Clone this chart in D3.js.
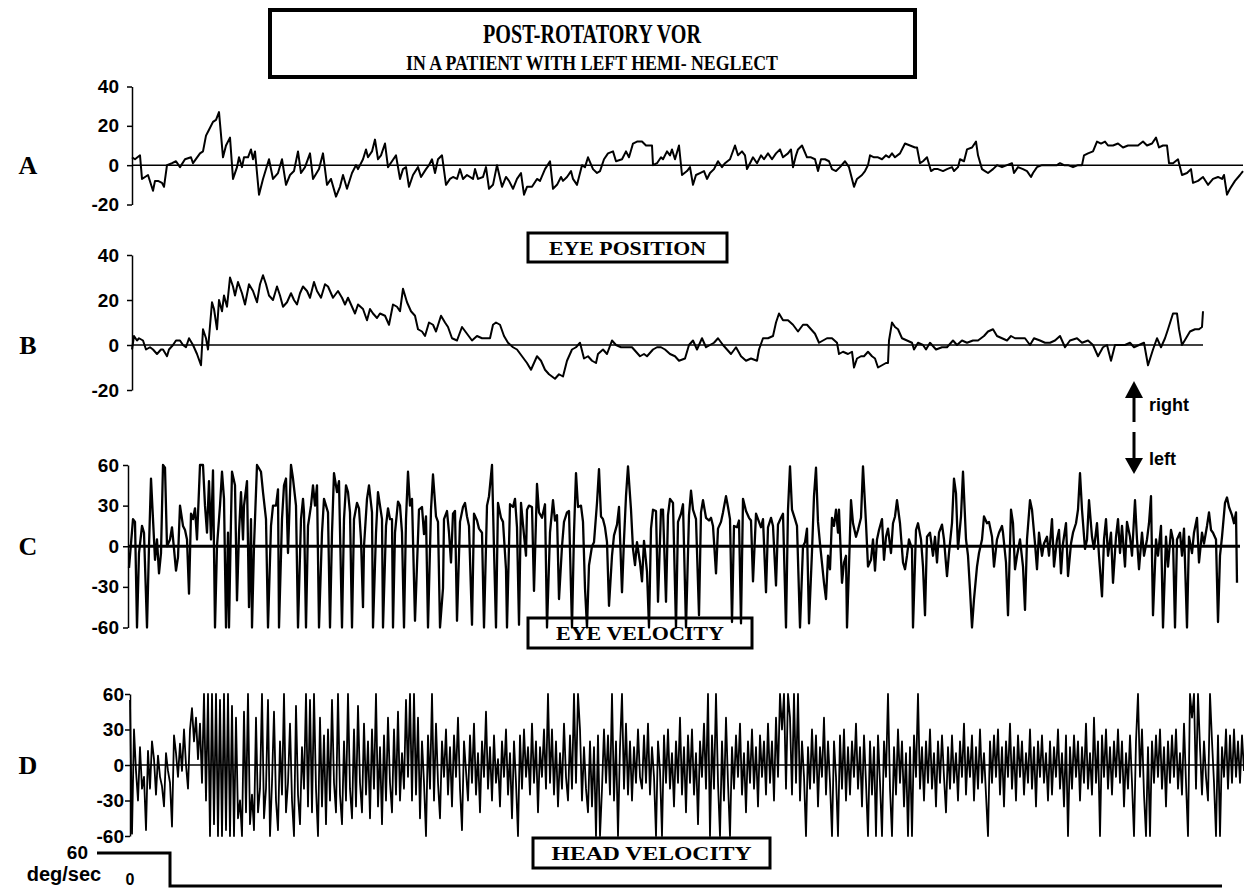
<!DOCTYPE html>
<html>
<head>
<meta charset="utf-8">
<script src="https://cdn.jsdelivr.net/npm/d3@7"></script>
<style>
  html, body { margin: 0; padding: 0; background: #fff; }
  svg { display: block; }
</style>
</head>
<body>
<svg id="chart" width="1244" height="891"></svg>
<script>
// sample index along the record, value in degrees (A, B) or deg/sec (C)
const posA = [[0,4],[3,3],[8,5],[10,-7],[13,-6],[16,-5],[21,-13],[23,-8],[26,-8],[30,-9],[32,-11],[35,0],[40,1],[44,2],[48,-1],[53,3],[59,4],[61,1],[68,6],[71,7],[74,15],[76,17],[81,22],[84,23],[87,27],[91,4],[94,10],[98,14],[101,-7],[105,-1],[107,4],[110,-1],[112,4],[116,4],[119,8],[121,3],[123,7],[127,-15],[131,-7],[137,3],[141,-7],[146,-4],[150,3],[154,-10],[158,-5],[162,-3],[166,7],[169,-4],[173,-1],[178,6],[181,-7],[187,-2],[191,6],[195,-10],[199,-7],[204,-16],[208,-11],[211,-5],[215,-12],[220,-4],[224,0],[226,-2],[231,3],[234,8],[236,4],[240,7],[243,13],[246,3],[249,5],[253,11],[256,-1],[260,2],[264,5],[268,-7],[271,-2],[274,-1],[277,-11],[281,-5],[286,-1],[289,-6],[294,-2],[297,0],[300,3],[303,-4],[306,3],[310,5],[314,-10],[318,-7],[321,-6],[325,-7],[328,-2],[331,-7],[335,-5],[341,-7],[343,-2],[346,-7],[351,-6],[354,-1],[357,-12],[361,-10],[365,0],[370,-11],[374,-6],[377,-8],[381,-12],[385,-7],[389,-4],[392,-15],[395,-11],[400,-11],[405,-7],[408,-8],[413,-2],[418,2],[421,-12],[425,-10],[429,-6],[431,-8],[435,-6],[439,-3],[441,-7],[445,-10],[450,0],[453,-1],[456,4],[461,-2],[465,-4],[468,-3],[472,3],[476,6],[481,7],[484,2],[490,3],[494,7],[497,4],[501,11],[505,12],[510,12],[514,10],[518,10],[520,10],[521,0],[525,1],[529,4],[531,3],[535,7],[538,5],[540,8],[543,3],[547,10],[550,-5],[555,-3],[558,-1],[561,-10],[564,-5],[568,-4],[572,-3],[575,-7],[578,-4],[582,-2],[586,2],[590,-1],[593,1],[598,3],[603,10],[606,5],[610,7],[613,5],[615,-2],[618,1],[621,4],[625,1],[629,5],[632,3],[636,6],[640,3],[644,6],[648,8],[651,4],[656,6],[659,8],[661,-1],[664,5],[666,8],[670,10],[675,4],[679,4],[683,3],[686,-3],[689,3],[693,3],[697,2],[700,-2],[704,-3],[708,-1],[713,2],[717,-1],[722,-11],[725,-7],[730,-5],[733,-3],[736,0],[738,5],[742,4],[746,4],[750,3],[754,5],[757,4],[760,6],[763,4],[768,6],[773,11],[778,10],[783,9],[785,9],[788,1],[791,2],[795,4],[799,-3],[802,-2],[806,-2],[811,-3],[815,-2],[820,-1],[822,-3],[826,-1],[828,3],[832,2],[835,8],[840,9],[844,12],[846,5],[850,-2],[853,-3],[856,-4],[861,-2],[865,0],[870,-1],[875,0],[880,1],[882,-4],[886,-1],[891,-2],[895,-3],[899,-6],[901,-4],[905,-1],[910,0],[915,0],[920,0],[925,0],[928,1],[932,0],[936,0],[941,-1],[946,0],[950,0],[952,5],[956,6],[961,7],[965,12],[969,11],[973,12],[976,10],[981,10],[986,11],[991,9],[996,10],[1001,10],[1006,10],[1011,12],[1015,10],[1020,11],[1024,14],[1027,9],[1031,10],[1035,10],[1037,1],[1041,1],[1046,3],[1050,-5],[1055,-4],[1059,-2],[1061,-9],[1066,-8],[1071,-6],[1076,-10],[1081,-7],[1086,-6],[1090,-7],[1092,-5],[1095,-15],[1098,-12],[1103,-8],[1108,-5],[1111,-3]];

const posB = [[0,-2],[2,4],[5,2],[7,3],[11,2],[14,-2],[18,-1],[21,-2],[25,-4],[29,-2],[31,-2],[35,-5],[37,-2],[41,0],[44,2],[48,2],[51,0],[54,-1],[57,3],[61,0],[65,-4],[69,-9],[71,7],[74,3],[76,-2],[80,19],[82,16],[85,7],[87,20],[90,15],[92,22],[95,17],[98,30],[101,26],[103,22],[106,28],[110,23],[113,18],[117,27],[121,24],[125,19],[128,27],[131,31],[134,27],[137,22],[141,20],[145,26],[148,22],[151,17],[155,19],[159,23],[162,20],[165,18],[168,23],[171,26],[175,24],[178,21],[182,28],[185,24],[189,21],[193,27],[196,26],[199,23],[201,21],[206,24],[210,21],[213,18],[216,21],[221,16],[223,14],[226,18],[231,16],[235,11],[238,16],[241,14],[245,12],[248,14],[253,13],[257,9],[261,18],[265,17],[268,15],[271,25],[275,19],[279,15],[283,13],[286,7],[290,6],[293,4],[297,10],[301,9],[304,6],[309,13],[313,10],[316,8],[320,3],[325,2],[330,8],[335,5],[340,2],[345,4],[350,3],[354,3],[358,3],[361,9],[364,10],[368,9],[372,4],[376,1],[381,-1],[385,-2],[390,-5],[395,-8],[399,-11],[405,-5],[409,-7],[413,-11],[417,-13],[423,-15],[427,-13],[431,-14],[435,-7],[440,-2],[444,-1],[448,1],[452,-6],[456,-5],[460,-7],[464,-8],[466,-4],[471,-2],[475,-4],[480,2],[484,0],[489,-1],[495,-1],[500,-1],[504,-3],[508,-5],[512,-4],[515,-5],[521,-2],[525,-1],[529,-1],[533,-2],[538,-4],[543,-5],[547,-7],[553,-6],[557,0],[561,2],[565,-2],[570,3],[574,-1],[578,0],[582,1],[586,3],[591,0],[595,-2],[599,-4],[604,-1],[609,-5],[614,-7],[619,-6],[625,-7],[627,-2],[631,3],[636,3],[641,4],[644,10],[647,14],[651,11],[656,11],[661,9],[666,6],[671,9],[675,9],[679,7],[683,5],[687,1],[691,2],[695,3],[700,3],[705,1],[707,-4],[711,-3],[716,-4],[720,-3],[722,-10],[725,-6],[729,-5],[732,-5],[736,-3],[740,-5],[743,-6],[746,-10],[750,-9],[754,-8],[756,-8],[757,2],[760,10],[763,8],[766,7],[770,3],[775,2],[780,1],[782,-2],[786,1],[791,0],[794,-2],[798,1],[804,-2],[810,-1],[815,-1],[821,2],[825,0],[830,2],[835,1],[841,2],[846,2],[852,4],[856,6],[861,7],[865,4],[870,3],[875,2],[879,4],[883,3],[888,3],[893,3],[898,0],[902,3],[908,2],[913,1],[918,1],[923,2],[928,4],[933,-1],[938,2],[945,3],[950,1],[956,2],[961,0],[966,-5],[971,-1],[975,0],[979,-7],[983,0],[988,0],[993,0],[998,1],[1002,-1],[1007,0],[1012,1],[1016,-9],[1021,-2],[1025,3],[1029,-1],[1033,3],[1036,7],[1041,14],[1045,14],[1047,7],[1050,0],[1054,3],[1058,6],[1063,7],[1067,7],[1070,8],[1071,15]];

const velC = [[1,-16],[5,20],[7,18],[9,-60],[11,-5],[14,15],[16,10],[19,-60],[21,0],[23,50],[25,20],[27,-10],[29,5],[31,-20],[33,-5],[35,60],[37,58],[39,0],[42,5],[44,14],[46,-2],[48,-18],[50,-8],[52,30],[55,15],[57,12],[59,5],[61,-35],[63,24],[65,20],[67,28],[69,5],[72,60],[75,60],[77,30],[79,10],[81,48],[83,5],[85,56],[87,-60],[89,0],[92,30],[94,55],[96,35],[98,-60],[100,10],[101,-60],[103,20],[104,55],[107,45],[109,-40],[111,10],[113,40],[115,5],[116,30],[119,48],[121,-45],[123,20],[124,-60],[126,0],[129,60],[133,55],[135,40],[138,20],[140,-60],[143,15],[145,30],[148,30],[150,42],[151,-60],[154,20],[156,45],[158,50],[160,-5],[163,60],[165,50],[168,30],[170,-60],[173,20],[175,35],[176,25],[178,-60],[180,15],[183,30],[185,45],[187,30],[189,45],[191,-60],[194,10],[196,35],[198,30],[200,25],[202,-60],[204,10],[206,54],[209,40],[211,48],[214,-60],[216,20],[218,45],[220,40],[222,25],[224,-60],[226,20],[229,32],[231,28],[233,5],[235,-45],[236,0],[239,35],[241,45],[244,25],[245,-60],[248,10],[250,40],[252,30],[254,20],[255,-60],[258,15],[260,28],[262,20],[264,20],[265,-60],[267,10],[270,33],[272,30],[274,10],[276,-60],[278,20],[280,55],[282,30],[284,35],[287,-55],[291,27],[294,29],[296,9],[298,22],[300,-60],[303,27],[305,53],[308,22],[310,18],[312,-60],[315,-31],[316,20],[319,26],[321,10],[323,-12],[325,24],[327,26],[329,-55],[332,18],[335,29],[337,32],[339,22],[341,15],[344,-58],[346,24],[349,19],[351,13],[354,10],[356,-60],[359,30],[361,37],[364,60],[366,-2],[368,-60],[370,32],[373,21],[375,18],[378,-17],[379,-60],[382,31],[385,29],[387,35],[389,14],[391,-58],[393,32],[395,16],[398,-7],[399,27],[401,30],[404,29],[406,-33],[409,46],[411,25],[414,21],[417,31],[419,-60],[422,10],[425,34],[427,19],[429,23],[431,-39],[434,0],[436,18],[439,25],[441,26],[444,-60],[446,10],[448,54],[450,29],[453,30],[455,18],[457,-31],[459,-60],[461,-14],[464,0],[466,3],[469,32],[471,57],[473,22],[475,20],[477,14],[479,3],[481,-44],[484,-7],[486,8],[489,16],[491,29],[494,-34],[496,5],[498,37],[500,59],[503,27],[505,-2],[507,-14],[509,3],[512,-12],[514,-26],[516,4],[519,-19],[521,-60],[523,13],[525,27],[528,26],[530,-41],[533,27],[535,27],[538,-41],[540,23],[542,35],[545,32],[548,-60],[550,18],[553,24],[555,31],[558,-60],[561,23],[563,41],[565,27],[568,20],[571,-51],[573,25],[575,34],[578,21],[581,19],[583,21],[585,15],[588,-20],[590,13],[593,18],[595,25],[598,37],[600,29],[602,20],[604,-56],[606,15],[609,14],[611,19],[613,-57],[615,35],[618,26],[621,21],[623,19],[625,-26],[628,24],[630,20],[633,14],[635,20],[638,-34],[640,14],[643,21],[645,15],[648,-29],[650,16],[653,21],[655,24],[658,-60],[660,27],[662,59],[664,27],[667,20],[669,15],[672,-60],[675,0],[677,3],[679,13],[681,-57],[684,-4],[686,37],[688,58],[690,18],[692,2],[696,-27],[698,-39],[700,-7],[702,-17],[704,21],[706,15],[708,27],[710,10],[711,27],[714,-27],[716,-12],[718,-7],[719,-60],[721,-15],[723,34],[725,17],[728,7],[730,12],[733,21],[735,59],[738,17],[740,-15],[743,-10],[745,5],[747,-18],[749,5],[751,12],[754,20],[756,-10],[758,7],[760,13],[763,-5],[765,17],[767,22],[769,34],[772,17],[775,-12],[777,-17],[779,-7],[781,5],[784,-2],[785,-60],[788,12],[790,17],[793,5],[795,-15],[797,-51],[799,7],[802,10],[805,-7],[807,7],[809,-12],[811,10],[814,16],[816,5],[819,-22],[821,-5],[824,17],[826,50],[828,39],[830,-2],[833,22],[835,55],[838,5],[840,-7],[842,-32],[844,-60],[846,-39],[849,-15],[851,-5],[854,5],[856,22],[859,17],[861,18],[864,7],[866,-15],[869,5],[871,10],[874,15],[875,10],[878,-12],[880,-51],[883,27],[885,17],[887,-17],[889,-7],[892,5],[895,-15],[897,-47],[899,5],[902,34],[904,27],[907,2],[909,-17],[911,10],[914,-7],[916,2],[919,7],[921,-7],[924,20],[926,-15],[929,5],[931,12],[933,-20],[935,2],[938,17],[940,-22],[943,2],[945,10],[948,17],[950,27],[952,54],[954,27],[957,-2],[959,5],[961,34],[964,7],[966,-2],[969,17],[971,-7],[974,-37],[976,5],[978,20],[980,-7],[983,10],[985,-27],[988,7],[990,20],[992,-5],[994,15],[997,-15],[999,18],[1002,7],[1004,-7],[1007,34],[1009,5],[1011,-17],[1014,10],[1016,-7],[1019,5],[1021,17],[1023,37],[1025,-51],[1028,5],[1030,-7],[1033,15],[1035,-60],[1038,7],[1040,-15],[1043,12],[1045,5],[1047,-60],[1049,5],[1052,10],[1054,-7],[1056,13],[1059,-60],[1061,7],[1064,-5],[1066,10],[1069,21],[1071,-12],[1074,10],[1076,2],[1079,15],[1081,25],[1083,12],[1085,10],[1088,5],[1090,-56],[1092,-7],[1094,7],[1097,32],[1099,36],[1101,29],[1104,23],[1106,17],[1108,25],[1109,-27]];

// head-velocity trace, read every 2 samples
const velD = [
  55,-58,30,-5,-30,15,-20,-10,-55,12,
  -20,20,5,-25,8,-10,-18,-35,10,-5,
  -15,-52,25,10,-10,18,-5,30,0,-20,
  30,48,20,40,5,35,-15,60,-30,60,
  -60,60,-50,60,-60,55,-60,60,-55,60,
  -60,50,-60,40,-45,-30,-60,45,-40,60,
  -50,-25,-55,40,-40,-20,60,-45,-20,55,
  -60,-15,45,-30,-55,20,-25,60,-40,-15,
  35,-30,-60,50,-25,-50,15,-20,60,-35,
  55,-40,60,-20,-60,40,-35,25,-50,30,
  -30,55,-15,-40,60,-25,-50,20,-30,60,
  -20,-45,30,-35,50,-15,-40,35,-25,20,
  -45,30,-20,60,-35,15,-50,25,-30,40,
  -15,-40,30,-25,45,-30,10,-20,55,-10,
  60,-30,60,-25,40,-45,20,-15,-60,25,
  -20,60,-30,35,-15,-45,20,-10,30,-25,
  15,-35,25,-10,40,-20,-55,20,-5,-30,
  25,-15,35,-25,10,-40,20,-10,45,-20,
  15,-30,25,-15,5,-35,20,-10,30,-25,
  10,-45,20,-15,-60,25,-20,30,-10,15,
  -25,35,-15,20,-40,15,-10,30,-20,60,
  -15,30,-25,20,-35,10,-20,35,-10,-30,
  25,-20,60,-15,60,30,-30,15,-20,-40,
  20,-35,15,-60,25,-60,-20,30,-15,25,
  -25,60,-30,20,-60,15,60,-20,35,-25,
  20,-30,15,-15,30,-10,-20,25,-15,35,
  -25,15,-10,-60,20,-5,-60,25,-15,30,
  -20,10,-35,20,-15,40,-25,15,-40,25,
  -15,30,-25,10,-50,20,-10,35,-20,60,
  -60,25,-20,60,-15,-60,20,-30,40,-15,
  -60,15,-20,25,-10,35,-25,10,-40,20,
  -15,30,-20,15,-35,25,-10,20,-25,35,
  -15,20,-30,40,-10,60,30,60,-20,60,
  40,-25,60,-15,60,-30,20,-10,-60,15,
  -20,30,-15,25,-35,15,-10,40,-25,20,
  -15,-60,20,-10,-60,25,-20,30,-30,15,
  -25,20,-10,35,-20,15,-35,25,-15,-60,
  20,-25,15,-60,25,-15,-60,20,-10,60,
  -20,-60,15,-25,30,-15,20,-35,10,-60,
  15,-60,25,-10,60,-20,15,-30,20,-15,
  30,-20,10,-35,20,-15,25,-10,-40,15,
  -20,25,-15,10,-30,20,-10,35,-25,15,
  -10,25,-30,15,-20,30,-15,10,-25,-60,
  20,-15,25,-10,30,-25,15,-35,20,-10,
  35,-20,15,-30,25,-10,20,-25,10,-15,
  30,-20,15,-35,20,-10,25,-15,10,-30,
  20,-25,15,-10,30,-20,10,-35,25,-60,
  15,-20,25,-10,20,-30,15,-15,35,-20,
  10,-25,40,-15,20,-60,25,-10,30,-20,
  15,-25,20,-10,30,-15,20,-35,10,-20,
  25,-15,-60,20,60,-10,30,-25,-60,15,
  -60,20,-15,25,-10,30,-20,15,-35,20,
  -15,25,-10,30,-20,10,-25,35,-15,-60,
  60,40,60,-20,60,15,-25,20,-10,-30,
  60,20,-15,-60,25,-60,15,-10,30,-20,
  25,-15,30,-10,20,-15,25,-5
];
const stepD = 2;

const headTime = [-33, 40, 40, 1092];
const headVel = [60, 60, 0, 0];

const ticksPos = [40, 20, 0, -20];
const ticksVel = [60, 30, 0, -30, -60];

const svg = d3.select('#chart');
const sans = "'Liberation Sans', Arial, sans-serif";
const serif = "'Liberation Serif', 'Times New Roman', serif";

const panels = [
  { letter: 'A', data: posA, domX: [0, 1111], rangeX: [132, 1243], domY: [-20, 40], rangeY: [204.5, 86.5], ticks: ticksPos, zeroEnd: 1243, zeroW: 1.5, labelX: 119, lw: 2 },
  { letter: 'B', data: posB, domX: [0, 1111], rangeX: [132, 1243], domY: [-20, 40], rangeY: [390, 255], ticks: ticksPos, zeroEnd: 1203, zeroW: 1.5, labelX: 119, lw: 2 },
  { letter: 'C', data: velC, domX: [0, 1110], rangeX: [128, 1238], domY: [-60, 60], rangeY: [627.5, 465], ticks: ticksVel, zeroEnd: 1240, zeroW: 3, labelX: 119, lw: 2.3 },
  { letter: 'D', data: velD.map((v, i) => [i * stepD, v]), domX: [0, 1114], rangeX: [130, 1244], domY: [-60, 60], rangeY: [836, 694], ticks: ticksVel, zeroEnd: 1244, zeroW: 1.5, labelX: 124, lw: 1.8 }
];

// labelled boxes go underneath the traces
function labelBox(x, y, w, h, text, len) {
  svg.append('rect').attr('x', x).attr('y', y).attr('width', w).attr('height', h)
    .attr('fill', '#fff').attr('stroke', '#000').attr('stroke-width', 3);
  svg.append('text').attr('x', x + w / 2).attr('y', y + h / 2 + 7)
    .attr('text-anchor', 'middle').attr('font-family', serif).attr('font-weight', 'bold')
    .attr('font-size', 19).attr('textLength', len).attr('lengthAdjust', 'spacingAndGlyphs')
    .text(text);
}
labelBox(528, 233, 199, 29, 'EYE POSITION', 157);
labelBox(528, 618, 224, 30, 'EYE VELOCITY', 168);
labelBox(533, 838, 237, 30, 'HEAD VELOCITY', 200);

panels.forEach(p => {
  const x = d3.scaleLinear().domain(p.domX).range(p.rangeX);
  const y = d3.scaleLinear().domain(p.domY).range(p.rangeY);
  const axisX = p.rangeX[0];

  const ax = svg.append('g')
    .attr('transform', 'translate(' + axisX + ',0)')
    .call(d3.axisLeft(y).tickValues(p.ticks).tickSize(5).tickSizeOuter(0)
      .tickPadding(axisX - p.labelX - 5).tickFormat(d => String(d)));
  ax.select('.domain').attr('stroke', '#000').attr('stroke-width', 1.5);
  ax.selectAll('.tick line').attr('stroke', '#000').attr('stroke-width', 1.5);
  ax.selectAll('.tick text')
    .attr('font-family', sans).attr('font-weight', 'bold').attr('font-size', 19).attr('fill', '#000');

  svg.append('line')
    .attr('x1', axisX).attr('x2', p.zeroEnd).attr('y1', y(0)).attr('y2', y(0))
    .attr('stroke', '#000').attr('stroke-width', p.zeroW);

  svg.append('path').datum(p.data)
    .attr('fill', 'none').attr('stroke', '#000').attr('stroke-width', p.lw)
    .attr('stroke-linejoin', 'round')
    .attr('d', d3.line().x(d => x(d[0])).y(d => y(d[1])));

  svg.append('text').attr('x', 28).attr('y', y(0) + 9)
    .attr('text-anchor', 'middle').attr('font-family', serif).attr('font-weight', 'bold')
    .attr('font-size', 26).text(p.letter);
});

// head velocity step
const xHead = d3.scaleLinear().domain([0, 1114]).range([130, 1244]);
const yHead = d3.scaleLinear().domain([0, 60]).range([886, 853]);
svg.append('path').datum(headTime.map((t, i) => [t, headVel[i]]))
  .attr('fill', 'none').attr('stroke', '#000').attr('stroke-width', 3)
  .attr('d', d3.line().x(d => xHead(d[0])).y(d => yHead(d[1])));
svg.append('text').attr('x', 88).attr('y', 859).attr('text-anchor', 'end')
  .attr('font-family', sans).attr('font-weight', 'bold').attr('font-size', 19).text('60');
svg.append('text').attr('x', 64).attr('y', 881).attr('text-anchor', 'middle')
  .attr('font-family', sans).attr('font-weight', 'bold').attr('font-size', 20).text('deg/sec');
svg.append('text').attr('x', 130).attr('y', 885).attr('text-anchor', 'middle')
  .attr('font-family', sans).attr('font-weight', 'bold').attr('font-size', 16).text('0');

// direction arrows
svg.append('rect').attr('x', 1132.5).attr('y', 396).attr('width', 3).attr('height', 26).attr('fill', '#000');
svg.append('path').attr('d', 'M1134,381 L1143,398 L1125,398 Z').attr('fill', '#000');
svg.append('rect').attr('x', 1132.5).attr('y', 432).attr('width', 3).attr('height', 28).attr('fill', '#000');
svg.append('path').attr('d', 'M1125,458 L1143,458 L1134,474 Z').attr('fill', '#000');
svg.append('text').attr('x', 1149).attr('y', 411)
  .attr('font-family', sans).attr('font-weight', 'bold').attr('font-size', 18).text('right');
svg.append('text').attr('x', 1149).attr('y', 465)
  .attr('font-family', sans).attr('font-weight', 'bold').attr('font-size', 18).text('left');

// title box
svg.append('rect').attr('x', 270).attr('y', 10).attr('width', 645).attr('height', 67)
  .attr('fill', '#fff').attr('stroke', '#000').attr('stroke-width', 4);
svg.append('rect').attr('x', 268).attr('y', 76).attr('width', 649).attr('height', 3).attr('fill', '#000');
svg.append('text').attr('x', 592).attr('y', 43).attr('text-anchor', 'middle')
  .attr('font-family', serif).attr('font-weight', 'bold').attr('font-size', 28)
  .attr('textLength', 218).attr('lengthAdjust', 'spacingAndGlyphs').text('POST-ROTATORY VOR');
svg.append('text').attr('x', 592).attr('y', 70).attr('text-anchor', 'middle')
  .attr('font-family', serif).attr('font-weight', 'bold').attr('font-size', 20)
  .attr('textLength', 372).attr('lengthAdjust', 'spacingAndGlyphs').text('IN A PATIENT WITH LEFT HEMI- NEGLECT');
</script>
</body>
</html>
